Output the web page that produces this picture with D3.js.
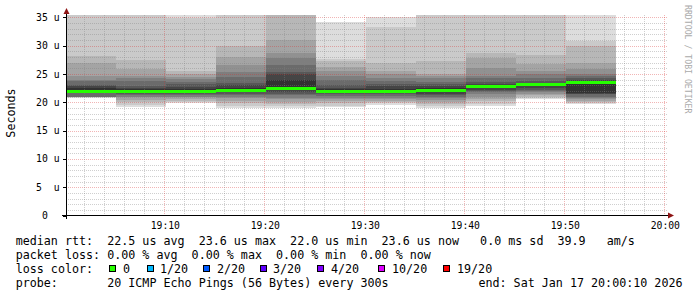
<!DOCTYPE html>
<html><head><meta charset="utf-8">
<script src="https://cdn.jsdelivr.net/npm/d3@7"></script>
<style>
html,body{margin:0;padding:0;background:#fff;}
svg{display:block;}
text{font-family:"DejaVu Sans Mono",monospace;white-space:pre;}
</style></head><body>
<svg id="c" width="697" height="297"></svg>
<script>
// ---- data ----
const startTime = "2026-01-17 19:00:10";
const endTime = "2026-01-17 20:00:10";
const stepStarts = ["19:00:10","19:05:10","19:10:10","19:15:10","19:20:10","19:25:10",
                    "19:30:10","19:35:10","19:40:10","19:45:10","19:50:10"];
const stepSeconds = 300;
// median rtt per step (microseconds)
const medianRtt = [22.0,22.0,22.0,22.1,22.6,22.0,22.0,22.1,22.9,23.2,23.6];
// sorted pings p1..p10 (lower half) per step
const pingsLow = [
  [20.7,20.9,21.0,21.0,21.0,21.0,21.0,21.7,21.8,21.9],
  [19.1,19.6,20.0,20.4,20.9,21.0,21.2,21.5,21.7,21.9],
  [19.9,20.0,20.3,20.6,20.9,21.0,21.3,21.5,21.7,21.9],
  [19.0,19.4,19.8,20.3,20.8,21.0,21.3,21.5,21.8,22.0],
  [19.0,19.3,19.7,20.1,20.5,20.8,21.2,21.5,21.8,22.2],
  [19.1,19.4,19.8,20.2,20.5,20.8,21.1,21.4,21.6,21.8],
  [19.6,19.8,20.0,20.3,20.6,20.8,21.1,21.4,21.7,21.9],
  [19.0,19.3,19.7,20.0,20.4,20.8,21.0,21.3,21.5,21.8],
  [19.3,19.7,20.2,20.6,21.0,21.5,21.8,22.0,22.2,22.6],
  [20.6,20.8,21.0,21.2,21.5,21.8,21.9,22.2,22.5,22.9],
  [19.7,19.8,20.0,20.3,20.6,20.7,20.9,21.4,21.5,21.6]
];
// sorted pings p11..p20 (upper half) per step
const pingsHigh = [
  [22.5,22.9,23.0,23.7,24.0,24.7,26.9,28.1,38.0,42.0],
  [22.4,22.6,22.9,23.7,24.2,24.7,25.9,27.5,37.0,40.0],
  [22.3,22.7,23.2,23.6,24.1,24.5,25.0,25.6,34.8,35.4],
  [22.5,23.0,23.4,24.4,25.3,26.5,28.0,29.9,38.0,40.0],
  [24.0,24.9,25.4,26.5,27.9,28.7,31.0,38.0,41.0,45.0],
  [22.3,22.6,23.0,23.9,24.7,25.5,26.2,27.3,27.7,34.2],
  [22.4,22.8,23.3,23.7,24.2,24.9,25.6,26.9,33.2,35.0],
  [22.5,22.8,23.2,23.6,24.2,24.6,25.0,27.3,38.0,42.0],
  [23.1,23.3,23.6,24.2,24.7,26.0,27.9,28.7,37.0,41.0],
  [23.3,23.4,23.7,24.2,24.9,25.6,26.7,28.3,37.0,40.0],
  [23.8,24.0,24.2,24.6,25.0,25.8,26.9,29.9,30.9,40.0]
];
const yTicks = [0,5,10,15,20,25,30,35];
const yUnit = "u";
const xTickTimes = ["19:10","19:20","19:30","19:40","19:50","20:00"];
const legendLines = [
  "median rtt:  22.5 us avg  23.6 us max  22.0 us min  23.6 us now   0.0 ms sd  39.9   am/s",
  "packet loss: 0.00 % avg  0.00 % max  0.00 % min  0.00 % now"
];
const lossLabels = ["0","1/20","2/20","3/20","4/20","10/20","19/20"];
const lossColors = ["#26ff00","#00b8ff","#0059ff","#5e00ff","#7e00ff","#dd00ff","#ff0000"];
const probeText = "probe:       20 ICMP Echo Pings (56 Bytes) every 300s";
const endText = "end: Sat Jan 17 20:00:10 2026";
const yTitle = "Seconds";
const sideText = "RRDTOOL / TOBI OETIKER";

// ---- drawing ----
const svg = d3.select("#c");
const parse = d3.timeParse("%Y-%m-%d %H:%M:%S");
const t0 = parse(startTime), t1 = parse(endTime);
const X0 = 66, X1 = 666, Y0 = 215.5, YTOP = 15;
const x = d3.scaleTime().domain([t0, t1]).range([X0, X1]);
const y = d3.scaleLinear().domain([0, 35]).range([Y0, 17.3]);
const day = "2026-01-17 ";

svg.append("rect").attr("width",697).attr("height",297).attr("fill","#fff");

const defs = svg.append("defs");
defs.append("clipPath").attr("id","plot").append("rect")
  .attr("x",X0).attr("y",YTOP).attr("width",X1-X0).attr("height",Y0-YTOP);

const half = 10;
const grays = d3.range(1, half+1).map(i => {
  const c = Math.floor(190/half*(half-i))+50;
  return d3.rgb(c,c,c).formatHex();
});

const smoke = svg.append("g").attr("clip-path","url(#plot)");
stepStarts.forEach((s, c) => {
  const ts = parse(day + s);
  const te = d3.timeSecond.offset(ts, stepSeconds);
  const xa = x(ts), xb = x(te);
  for (let k = 0; k < half; k++) {
    const lo = pingsLow[c][k], hi = pingsHigh[c][half-1-k];
    smoke.append("rect")
      .attr("x", xa).attr("width", xb - xa)
      .attr("y", y(hi)).attr("height", y(lo) - y(hi))
      .attr("fill", grays[k]).attr("shape-rendering","crispEdges");
  }
});

// grid
const grid = svg.append("g").attr("shape-rendering","crispEdges");
const minorCol = "rgba(130,130,130,0.38)", majorCol = "rgba(215,50,50,0.36)";
d3.range(1, 36).forEach(v => {
  const major = v % 5 === 0;
  grid.append("line").attr("x1",X0).attr("x2",X1+1)
    .attr("y1",Math.round(y(v))+0.5).attr("y2",Math.round(y(v))+0.5)
    .attr("stroke", major ? majorCol : minorCol).attr("stroke-dasharray","1,1");
});
const vt = d3.timeMinute.every(2).range(d3.timeMinute.offset(t0,1), d3.timeSecond.offset(t1,1));
vt.forEach(t => {
  const major = t.getMinutes() % 10 === 0;
  const xx = Math.round(x(t)) + 0.5;
  grid.append("line").attr("x1",xx).attr("x2",xx).attr("y1",YTOP).attr("y2",Y0)
    .attr("stroke", major ? majorCol : minorCol).attr("stroke-dasharray","1,1");
});

// median line
const med = svg.append("g");
stepStarts.forEach((s, c) => {
  const ts = parse(day + s);
  const te = d3.timeSecond.offset(ts, stepSeconds);
  med.append("rect").attr("x", x(ts)).attr("width", x(te)-x(ts))
    .attr("y", Math.round(y(medianRtt[c])) - 1).attr("height", 3)
    .attr("fill", lossColors[0]).attr("shape-rendering","crispEdges");
});

// axes
const ax = svg.append("g").attr("shape-rendering","crispEdges");
ax.append("line").attr("x1",62).attr("x2",670).attr("y1",215.5).attr("y2",215.5).attr("stroke","#000");
ax.append("line").attr("x1",66.5).attr("x2",66.5).attr("y1",219).attr("y2",12).attr("stroke","#000");
yTicks.forEach(v => {
  ax.append("line").attr("x1",63).attr("x2",66).attr("y1",Math.round(y(v))+0.5).attr("y2",Math.round(y(v))+0.5).attr("stroke","#000");
});
svg.append("path").attr("d","M63.5,14 L69.5,14 L66.5,8 Z").attr("fill","#8e1414");
svg.append("path").attr("d","M668,212.5 L668,218.5 L674,215.5 Z").attr("fill","#8e1414");

// y tick labels
const fsAxis = 9.75, cwA = fsAxis*0.602;
const labLeft = 59.5 - 4*cwA;
yTicks.forEach(v => {
  const yy = y(v) + 3.6;
  if (v === 0) {
    svg.append("text").attr("x", labLeft + cwA).attr("y", yy).attr("font-size",fsAxis).text("0");
  } else {
    svg.append("text").attr("x", labLeft).attr("y", yy).attr("font-size",fsAxis).text(String(v));
    svg.append("text").attr("x", labLeft + 3*cwA).attr("y", yy).attr("font-size",fsAxis).text(yUnit);
  }
});
// x tick labels
xTickTimes.forEach(tt => {
  const t = parse(day + tt + ":00");
  svg.append("text").attr("x", x(t)+1).attr("y", 228.5).attr("font-size",fsAxis)
    .attr("text-anchor","middle").text(tt);
});

// titles
svg.append("text").attr("transform","translate(14.5,113) rotate(-90)")
  .attr("text-anchor","middle").attr("font-size",11.7).text(yTitle);
svg.append("text").attr("transform","translate(684.5,5) rotate(90)")
  .attr("font-size",8.2).attr("fill","#aaaaaa").text(sideText);

// legend
const fsL = 11.7;
legendLines.forEach((l, i) => {
  svg.append("text").attr("x",15.7).attr("y",245 + i*14).attr("font-size",fsL).text(l);
});
svg.append("text").attr("x",15.7).attr("y",272.8).attr("font-size",fsL).text("loss color:");
const boxX = [109,147,203,260,317,378,443];
const txtX = [123,160,217,273,331,392,457];
lossLabels.forEach((lab, i) => {
  svg.append("rect").attr("x",boxX[i]+0.5).attr("y",265.5).attr("width",6).attr("height",6)
    .attr("fill",lossColors[i]).attr("stroke","#000").attr("shape-rendering","crispEdges");
  svg.append("text").attr("x",txtX[i]).attr("y",272.8).attr("font-size",fsL).text(lab);
});
svg.append("text").attr("x",15.7).attr("y",286.8).attr("font-size",fsL).text(probeText);
svg.append("text").attr("x",682.5).attr("y",286.8).attr("font-size",fsL)
  .attr("text-anchor","end").text(endText);
</script>
</body></html>
